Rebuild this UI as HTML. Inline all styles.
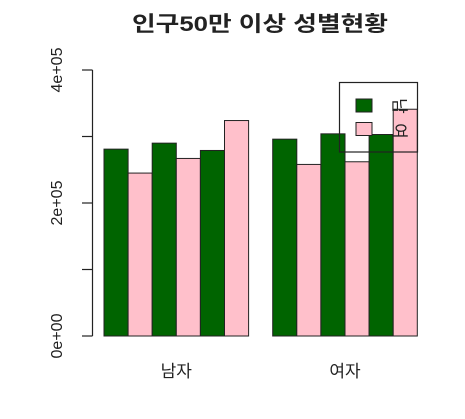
<!DOCTYPE html>
<html><head><meta charset="utf-8"><style>
html,body{margin:0;padding:0;background:#fff;}
svg{display:block;font-family:"Liberation Sans","Noto Sans CJK KR",sans-serif;}
</style></head><body>
<svg id="chart" width="465" height="419" viewBox="0 0 465 419">
<text x="260" y="31" text-anchor="middle" font-size="21" font-weight="bold" fill="#222" textLength="256" lengthAdjust="spacingAndGlyphs">인구50만 이상 성별현황</text>
<g id="bars"></g>
<g id="axis"></g>
<g id="legend">
<rect x="339.5" y="82.5" width="78" height="69.5" fill="none" stroke="#222" stroke-width="1.2"/>
<rect x="356" y="99" width="16" height="13" fill="#006400" stroke="#222"/>
<rect x="356" y="122.5" width="16" height="13" fill="#ffc0cb" stroke="#222"/>
<text x="398" y="106" font-size="17" fill="#222" transform="rotate(90 398 106)" text-anchor="middle" dominant-baseline="middle">남</text>
<text x="398" y="131" font-size="17" fill="#222" transform="rotate(90 398 131)" text-anchor="middle" dominant-baseline="middle">여</text>
</g>
</svg>
<script>
const categories = ["남자", "여자"];
const barColors = ["#006400", "#ffc0cb", "#006400", "#ffc0cb", "#006400", "#ffc0cb"];
const maleValues = [281000, 245000, 290000, 267000, 279000, 324000];
const femaleValues = [296000, 258000, 304000, 262000, 303000, 341000];
const yTicks = [0, 100000, 200000, 300000, 400000];
const yTickLabels = ["0e+00", "", "2e+05", "", "4e+05"];

const NS = "http://www.w3.org/2000/svg";
const y0 = 336, pxPerUnit = 66.5 / 100000;
const yScale = v => y0 - v * pxPerUnit;
const barW = 24.1, startX = 104;
const xScale = (g, i) => startX + (g * 7 + i) * barW;

const bars = document.getElementById("bars");
[maleValues, femaleValues].forEach((vals, g) => {
  vals.forEach((v, i) => {
    const r = document.createElementNS(NS, "rect");
    
    
    r.setAttribute("x", xScale(g, i));
    r.setAttribute("y", yScale(v));
    r.setAttribute("width", barW);
    r.setAttribute("height", y0 - yScale(v));
    r.setAttribute("fill", barColors[i]);
    r.setAttribute("stroke", "#222");
    r.setAttribute("stroke-width", "1");
    bars.appendChild(r);
  });
  const t = document.createElementNS(NS, "text");
  
  
  t.setAttribute("x", xScale(g, 3));
  t.setAttribute("y", 377);
  t.setAttribute("text-anchor", "middle");
  t.setAttribute("font-size", "17");
  t.setAttribute("fill", "#222");
  t.textContent = categories[g];
  bars.appendChild(t);
});

const axis = document.getElementById("axis");
const line = document.createElementNS(NS, "line");


line.setAttribute("x1", 92.5); line.setAttribute("x2", 92.5);
line.setAttribute("y1", yScale(yTicks[0])); line.setAttribute("y2", yScale(yTicks[yTicks.length - 1]));
line.setAttribute("stroke", "#222"); line.setAttribute("stroke-width", "1.2");
axis.appendChild(line);
yTicks.forEach((v, i) => {
  const tk = document.createElementNS(NS, "line");
  
  
  tk.setAttribute("x1", 82); tk.setAttribute("x2", 92.5);
  tk.setAttribute("y1", yScale(v)); tk.setAttribute("y2", yScale(v));
  tk.setAttribute("stroke", "#222"); tk.setAttribute("stroke-width", "1.2");
  axis.appendChild(tk);
  if (yTickLabels[i]) {
    const t = document.createElementNS(NS, "text");
    
    
    const y = yScale(v);
    t.setAttribute("x", 58); t.setAttribute("y", y);
    t.setAttribute("transform", "rotate(-90 58 " + y + ")");
    t.setAttribute("text-anchor", "middle");
    t.setAttribute("dominant-baseline", "middle");
    t.setAttribute("font-size", "16");
    t.setAttribute("fill", "#222");
    t.textContent = yTickLabels[i];
    axis.appendChild(t);
  }
});
</script>
</body></html>
